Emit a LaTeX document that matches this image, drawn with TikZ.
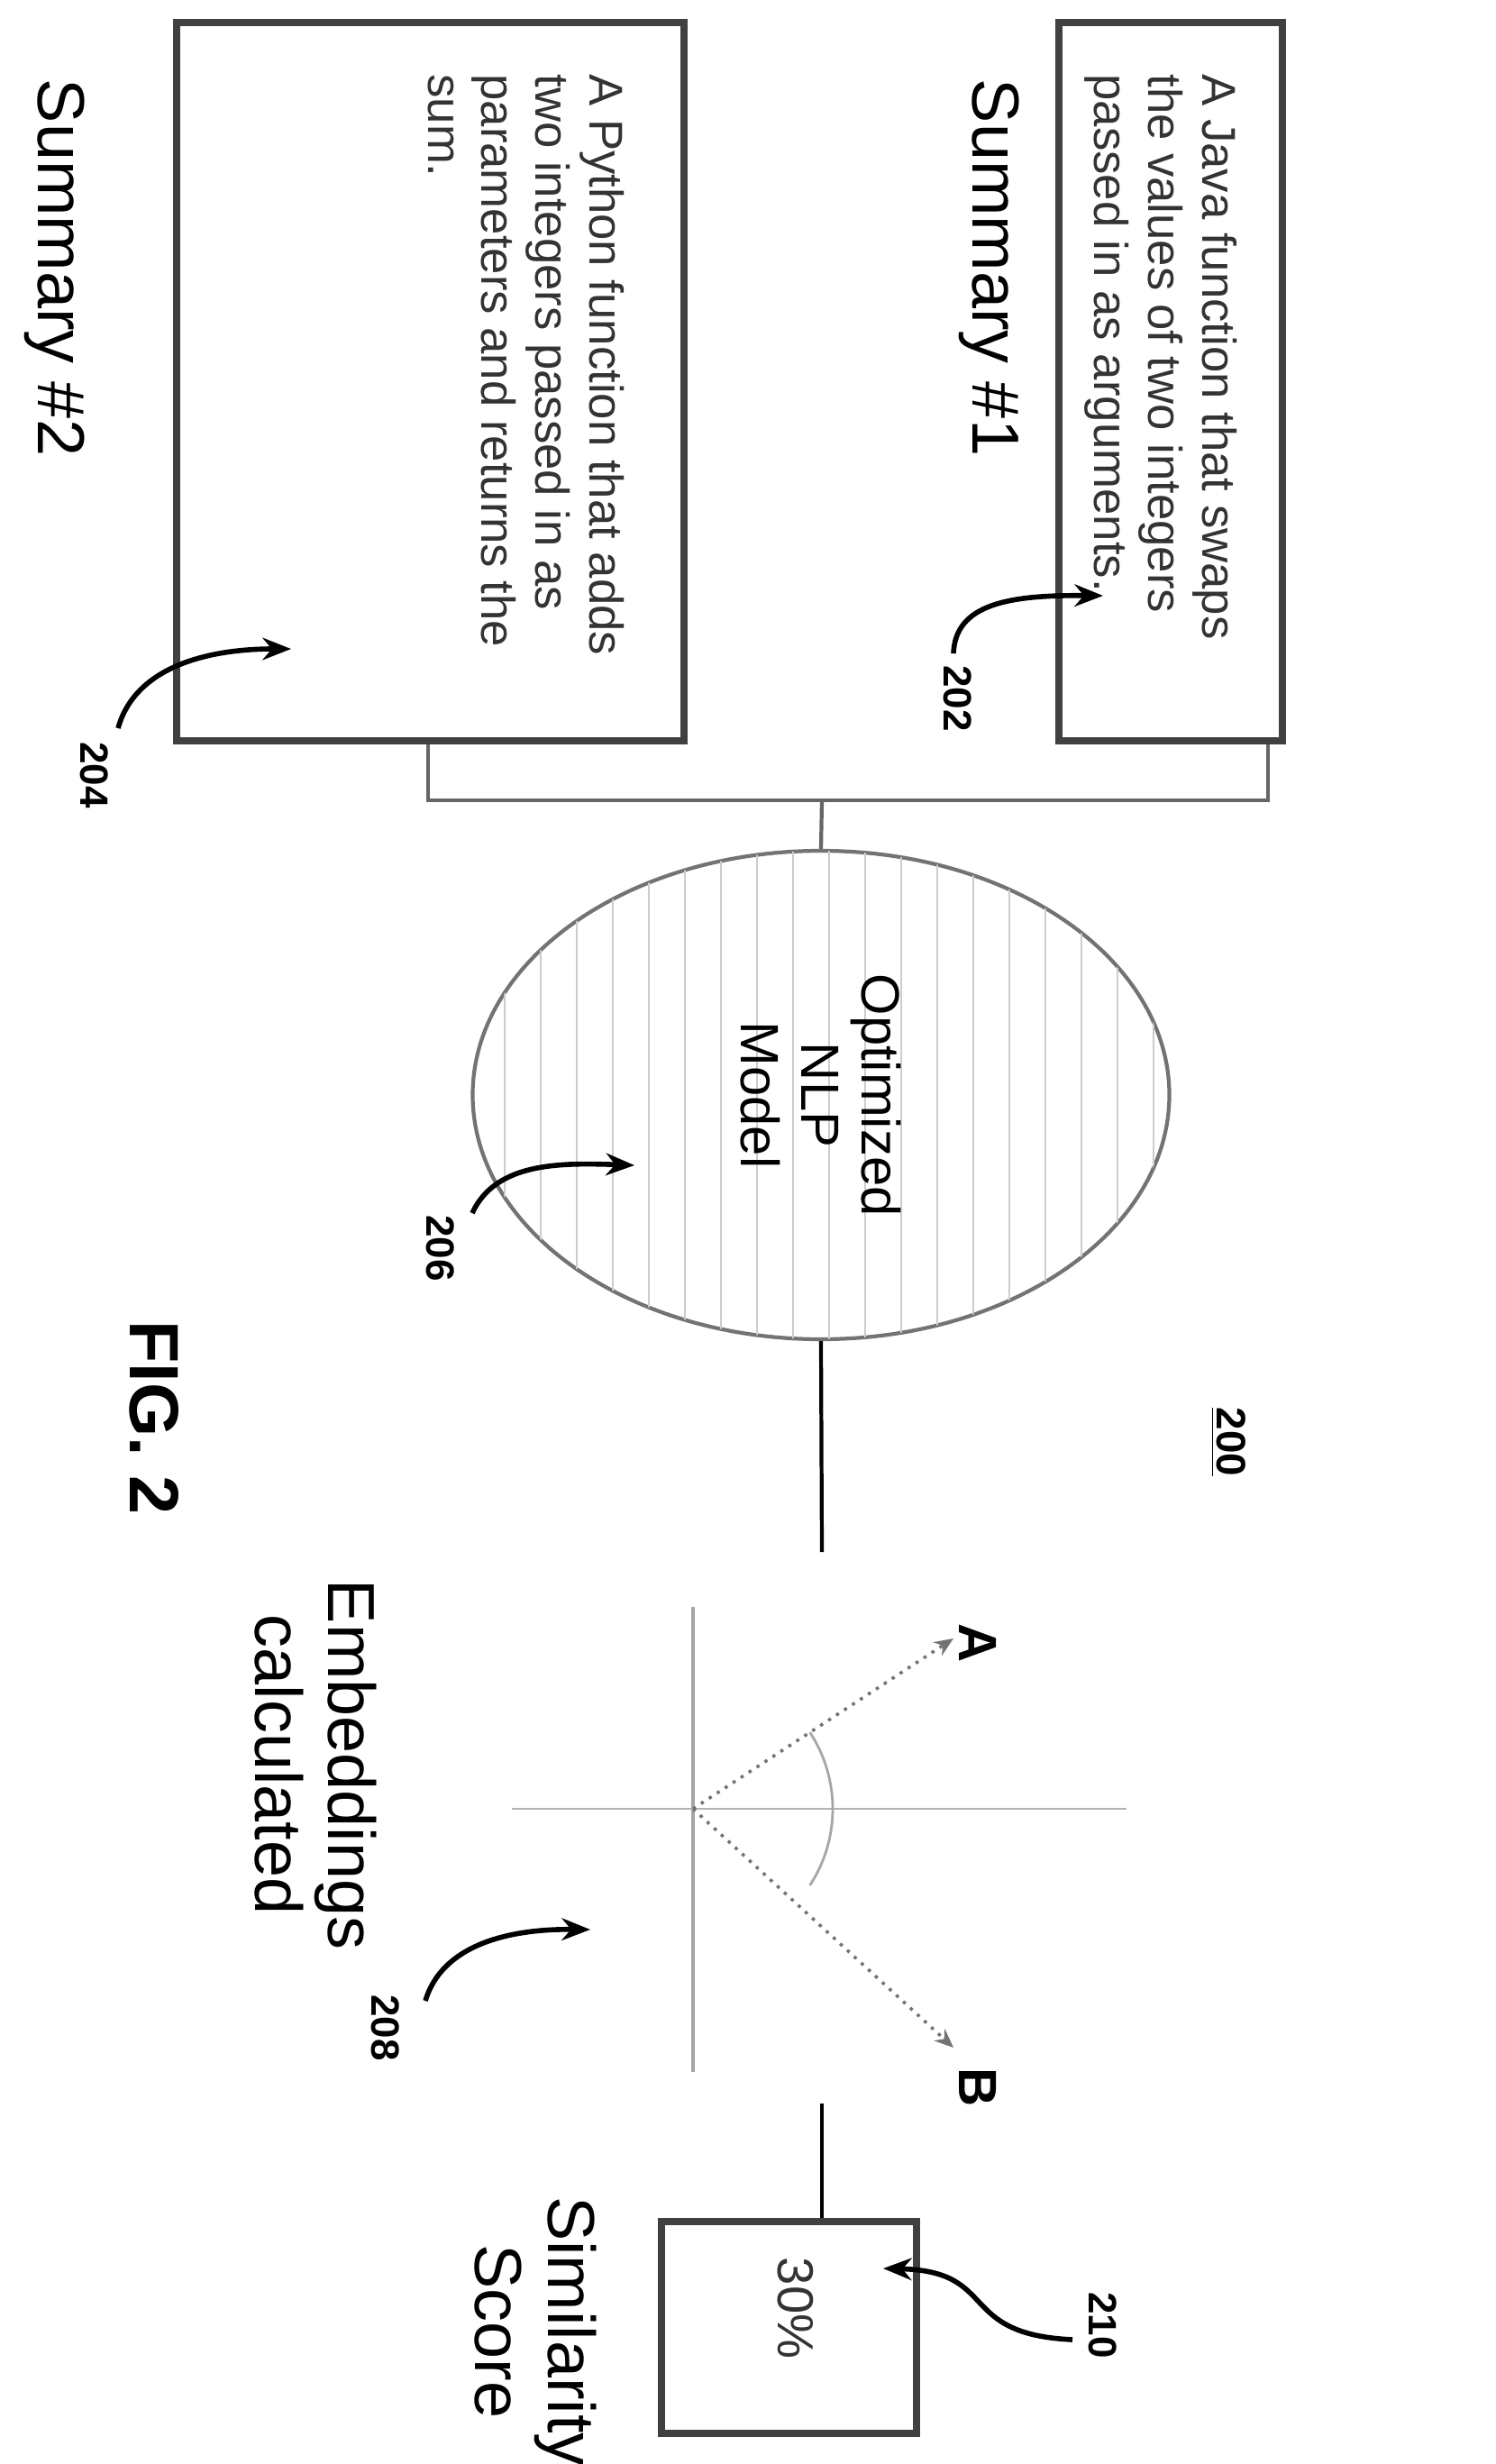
\documentclass[tikz,border=0pt]{standalone}
\usepackage{fontspec}
\setmainfont{Liberation Sans}
\usetikzlibrary{arrows.meta,shapes.geometric,calc}
\begin{document}
\begin{tikzpicture}[x=1cm,y=1cm,
  box/.style={draw=black!75,line width=2.2pt,inner sep=0pt},
  boxtxt/.style={rotate=-90,align=left,font=\fontsize{15}{17}\selectfont,text=black!80},
  lbl/.style={rotate=-90,align=center,font=\fontsize{21}{23}\selectfont},
  ref/.style={rotate=-90,font=\bfseries\fontsize{12.5}{13}\selectfont},
  refarr/.style={-{Stealth[length=9pt,width=7pt]},line width=1.6pt},
  conn/.style={draw=black!60,line width=1.2pt},
  vec/.style={draw=black!55,line width=1pt,dotted,-{Stealth[length=6pt,width=5pt]}}]
\useasboundingbox (0,0) rectangle (16.59,-27.34);
% boxes
\node[box,minimum width=2.48cm,minimum height=7.97cm,anchor=north west] (b1) at (11.71,-0.21) {};
\node[box,minimum width=5.63cm,minimum height=7.97cm,anchor=north west] (b2) at (1.92,-0.21) {};
\node[boxtxt,anchor=north west] (t1) at (13.85,-0.7) {A Java function that swaps\\the values of two integers\\passed in as arguments.};
\node[boxtxt,anchor=north west] (t2) at (7.05,-0.7) {A Python function that adds\\two integers passed in as\\parameters and returns the\\sum.};
\node[lbl] (s1) at (10.98,-2.97) {Summary \#1};
\node[lbl] (s2) at (0.61,-2.97) {Summary \#2};
% ellipse
\node[draw=black!55,line width=1.2pt,ellipse,minimum width=7.73cm,minimum height=5.42cm] (nlp) at (9.11,-12.15) {};
\begin{scope}
\clip (9.11,-12.15) ellipse (3.86 and 2.71);
\foreach \x in {5.2,5.6,...,13.0} \draw[black!20,line width=0.5pt] (\x,-9.4)--(\x,-14.9);
\end{scope}
\node[lbl,font=\fontsize{17}{19}\selectfont] (nlpt) at (9.11,-12.15) {Optimized\\NLP\\Model};
% bracket
\coordinate (j) at (9.12,-8.88);
\draw[conn] (b2.south -| 4.75,0) |- (j);
\draw[conn] (b1.south -| 14.07,0) |- (j);
\draw[conn] (j) -- (nlp.north);
\coordinate (c1) at (9.12,-17.22);
\draw[conn,draw=black] (nlp.south) -- (c1);
% chart
\coordinate (o) at (7.69,-20.07);
\draw[black!35,line width=1.2pt] (7.69,-17.83) -- (7.69,-22.99);
\draw[black!30,line width=0.6pt] (5.68,-20.07) -- (12.5,-20.07);
\coordinate (ea) at (10.58,-18.18);
\coordinate (eb) at (10.58,-22.72);
\draw[vec] (o) -- (ea);
\draw[vec] (o) -- (eb);
\draw[black!35,line width=0.8pt] ($(o)+(33.2:1.55)$) arc (33.2:-33.2:1.55);
\node[ref,font=\bfseries\fontsize{17}{18}\selectfont] (la) at (10.85,-18.23) {A};
\node[ref,font=\bfseries\fontsize{17}{18}\selectfont] (lb) at (10.85,-23.16) {B};
\node[lbl] (emb) at (3.5,-19.58) {Embeddings\\calculated};
\coordinate (c2) at (9.12,-23.34);
\node[box,minimum width=2.83cm,minimum height=2.35cm] (b3) at (8.755,-25.825) {};
\draw[conn,draw=black] (c2) -- (b3.north -| c2);
\node[boxtxt,font=\fontsize{16}{18}\selectfont] (pct) at (8.83,-25.61) {30\%};
\node[lbl] (sim) at (5.94,-25.87) {Similarity\\Score};
% misc
\node[ref,font=\bfseries\fontsize{13}{14}\selectfont] (n200) at (13.63,-16.0) {\underline{200}};
\node[ref,font=\bfseries\fontsize{22}{24}\selectfont] (fig) at (1.71,-15.73) {FIG. 2};
% reference numerals
\node[ref] (r202) at (10.63,-7.75) {202};
\draw[refarr] (10.58,-7.25) .. controls (10.6,-6.7) and (11.2,-6.6) .. (12.24,-6.61);
\node[ref] (r204) at (1.05,-8.6) {204};
\draw[refarr] (1.31,-8.08) .. controls (1.5,-7.4) and (2.3,-7.2) .. (3.23,-7.2);
\node[ref] (r206) at (4.89,-13.85) {206};
\draw[refarr] (5.24,-13.46) .. controls (5.5,-12.9) and (6.2,-12.9) .. (7.04,-12.93);
\node[ref] (r208) at (4.28,-22.5) {208};
\draw[refarr] (4.72,-22.2) .. controls (4.9,-21.6) and (5.6,-21.4) .. (6.55,-21.41);
\node[ref] (r210) at (12.24,-25.8) {210};
\draw[refarr] (11.9,-25.96) .. controls (10.6,-25.9) and (11.1,-25.2) .. (9.8,-25.17);
\end{tikzpicture}
\end{document}
